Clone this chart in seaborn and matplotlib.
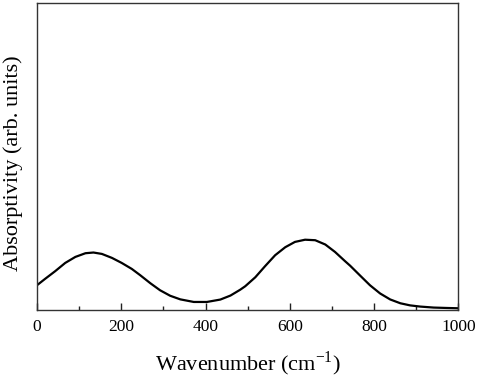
import pandas as pd
import matplotlib.pyplot as plt
import seaborn as sns

# --- Data (arb. units) ---
wavenumber = [0, 19, 43, 67, 91, 115, 134, 154, 178, 201, 225, 245, 269,
              292, 316, 340, 372, 403, 435, 459, 482, 494, 518, 541, 565,
              589, 612, 636, 660, 684, 707, 731, 743, 767, 790, 814, 838,
              862, 885, 909, 941, 972, 1000]
absorptivity = [25, 31.3, 39, 47.3, 53.3, 57, 57.7, 56.3, 52.3, 47.3, 41.3,
                35, 27, 20, 14.5, 10.9, 8.3, 8.3, 10.7, 14.7, 20.5, 24, 33,
                44, 55, 63, 68.3, 70.5, 70, 65.7, 58.3, 49, 44.5, 34.5, 25,
                16.8, 10.8, 7, 4.9, 3.7, 2.7, 2.3, 2]
x_ticks = [0, 200, 400, 600, 800, 1000]


def main():
    df = pd.DataFrame({'Wavenumber': wavenumber, 'Absorptivity': absorptivity})

    sns.set_theme(style="ticks")
    plt.rcParams['font.family'] = ['Liberation Serif', 'DejaVu Serif']
    plt.rcParams['mathtext.fontset'] = 'custom'
    plt.rcParams['mathtext.rm'] = 'Liberation Serif'
    plt.rcParams['text.color'] = 'black'
    plt.rcParams['axes.labelcolor'] = 'black'

    fig = plt.figure(figsize=(4.79, 3.77), dpi=100)
    ax = fig.add_axes([0.0772, 0.177, 0.88, 0.815])

    sns.lineplot(data=df, x='Wavenumber', y='Absorptivity', ax=ax,
                 color='black', linewidth=1.6)

    ax.set_xlim(0, 1000)
    ax.set_ylim(0, 307)
    ax.set_xticks(x_ticks)
    ax.set_xticks(range(100, 1000, 200), minor=True)
    ax.set_yticks([])
    ax.tick_params(axis='x', which='major', direction='in', length=5,
                   width=1, labelsize=12.5, pad=6, colors='#222222',
                   labelcolor='black')
    ax.tick_params(axis='x', which='minor', direction='in', length=3,
                   width=1, colors='#222222')

    for s in ax.spines.values():
        s.set_visible(True)
        s.set_linewidth(1.0)
        s.set_color('#333333')

    ax.set_xlabel('Wavenumber (cm$^{\\mathregular{-1}}$)', fontsize=16)
    ax.set_ylabel('Absorptivity (arb. units)', fontsize=16)
    ax.xaxis.set_label_coords(0.5, -0.126)
    ax.yaxis.set_label_coords(-0.034, 0.479)

    fig.savefig('out.png', dpi=100)


if __name__ == "__main__":
    main()
